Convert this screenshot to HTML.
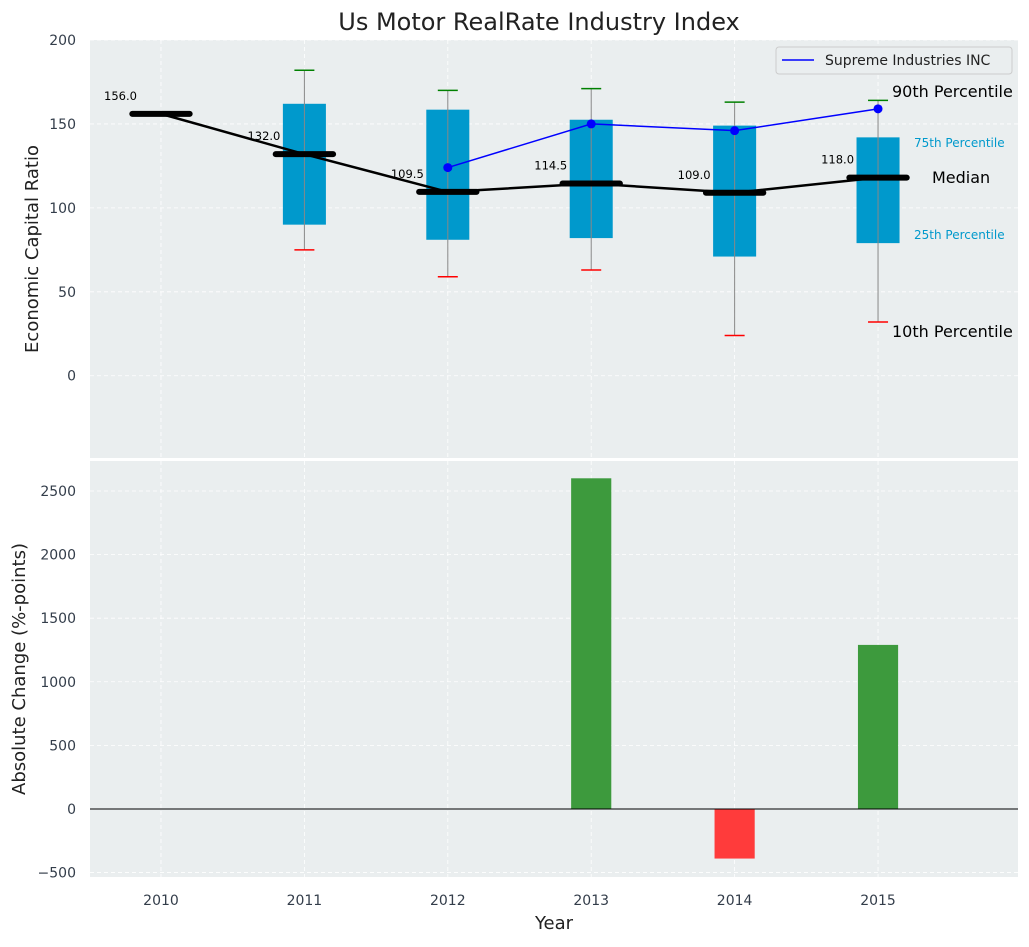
<!DOCTYPE html>
<html><head><meta charset="utf-8"><style>
body{margin:0;background:#fff;font-family:"Liberation Sans","DejaVu Sans",sans-serif}
svg text{font-family:"DejaVu Sans","Liberation Sans",sans-serif}
</style></head><body>
<svg id="c" width="1029" height="942" xmlns="http://www.w3.org/2000/svg"></svg>
<script>
const years=[2011,2012,2013,2014,2015];
const medYears=[2010,2011,2012,2013,2014,2015];
const medians=[156.0,132.0,109.5,114.5,109.0,118.0];
const q25=[90,81,82,71,79];
const q75=[162,158.5,152.5,149,142];
const p10=[75,59,63,24,32];
const p90=[182,170,171,163,164];
const compYears=[2012,2013,2014,2015];
const compVals=[124,150,146,159];
const chgYears=[2013,2014,2015];
const chgVals=[2600,-390,1290];
const topTicks=[0,50,100,150,200];
const botTicks=[-500,0,500,1000,1500,2000,2500];
const xTicks=[2010,2011,2012,2013,2014,2015];

const NS="http://www.w3.org/2000/svg",svg=document.getElementById('c');
function el(t,a,p){const e=document.createElementNS(NS,t);for(const k in a)e.setAttribute(k,a[k]);(p||svg).appendChild(e);return e;}
const L=90,R=1018;
const x=v=>L+(v-2009.505)/(2015.976-2009.505)*(R-L);
const T1=40,B1=458,yT=v=>T1+(200-v)/(200-(-49))*(B1-T1);
const T2=461,B2=877,yB=v=>T2+(2736-v)/(2736-(-535))*(B2-T2);

let e;
e=el('text',{x:539,y:30,'text-anchor':'middle','font-size':24,fill:'#222'});e.textContent='Us Motor RealRate Industry Index';

e=el('rect',{x:L,y:T1,width:R-L,height:B1-T1,fill:'#eaeeef'});

e=el('rect',{x:L,y:T2,width:R-L,height:B2-T2,fill:'#eaeeef'});

xTicks.forEach(t=>{[[T1,B1],[T2,B2]].forEach(r=>{el('line',{x1:x(t),x2:x(t),y1:r[0],y2:r[1],stroke:'#fff','stroke-dasharray':'4,3','stroke-width':0.8});});
 e=el('text',{x:x(t),y:905,'text-anchor':'middle','font-size':14,fill:'#333d4a'});e.textContent=t;
 });
topTicks.forEach(t=>{el('line',{x1:L,x2:R,y1:yT(t),y2:yT(t),stroke:'#fff','stroke-dasharray':'4,3','stroke-width':0.8});
 e=el('text',{x:76,y:yT(t)+5,'text-anchor':'end','font-size':14,fill:'#333d4a'});e.textContent=t;
 });
botTicks.forEach(t=>{el('line',{x1:L,x2:R,y1:yB(t),y2:yB(t),stroke:'#fff','stroke-dasharray':'4,3','stroke-width':0.8});
 e=el('text',{x:76,y:yB(t)+5,'text-anchor':'end','font-size':14,fill:'#333d4a'});e.textContent=(t<0?'\u2212'+(-t):t);
 });
e=el('text',{x:38,y:249,'text-anchor':'middle','font-size':18,fill:'#222',transform:'rotate(-90 38 249)'});e.textContent='Economic Capital Ratio';

e=el('text',{x:25,y:669,'text-anchor':'middle','font-size':18,fill:'#222',transform:'rotate(-90 25 669)'});e.textContent='Absolute Change (%-points)';

e=el('text',{x:554,y:929,'text-anchor':'middle','font-size':18,fill:'#222'});e.textContent='Year';

const bw=x(2011.15)-x(2011);
years.forEach((yr,i)=>{
 e=el('rect',{x:x(yr)-bw,y:yT(q75[i]),width:2*bw,height:yT(q25[i])-yT(q75[i]),fill:'#0099cc'});
 
 e=el('line',{x1:x(yr),x2:x(yr),y1:yT(p10[i]),y2:yT(p90[i]),stroke:'#888','stroke-width':1});
 
 e=el('line',{x1:x(yr)-10,x2:x(yr)+10,y1:yT(p90[i]),y2:yT(p90[i]),stroke:'green','stroke-width':1.5});
 
 e=el('line',{x1:x(yr)-10,x2:x(yr)+10,y1:yT(p10[i]),y2:yT(p10[i]),stroke:'red','stroke-width':1.5});
 
});
e=el('polyline',{points:medYears.map((y,i)=>x(y)+','+yT(medians[i])).join(' '),fill:'none',stroke:'#000','stroke-width':2.5});

const mw=x(2010.2)-x(2010);
medYears.forEach((yr,i)=>{
 e=el('line',{x1:x(yr)-mw,x2:x(yr)+mw,y1:yT(medians[i]),y2:yT(medians[i]),stroke:'#000','stroke-width':6,'stroke-linecap':'round'});
 
 e=el('text',{x:x(yr)-24,y:yT(medians[i])-14,'text-anchor':'end','font-size':11.5,fill:'#000'});e.textContent=medians[i].toFixed(1);
 
});
e=el('polyline',{points:compYears.map((y,i)=>x(y)+','+yT(compVals[i])).join(' '),fill:'none',stroke:'blue','stroke-width':1.5});

compYears.forEach((yr,i)=>{e=el('circle',{cx:x(yr),cy:yT(compVals[i]),r:4.5,fill:'blue'});
 });
const ann=[['90th Percentile',892,97,16,'#000'],['75th Percentile',914,147,12,'#0099cc'],['Median',932,183,16,'#000'],['25th Percentile',914,239,12,'#0099cc'],['10th Percentile',892,337,16,'#000']];
ann.forEach(a=>{e=el('text',{x:a[1],y:a[2],'font-size':a[3],fill:a[4]});e.textContent=a[0];
 });
const lg=el('g',{});
el('rect',{x:776,y:47,width:236,height:27,rx:3,fill:'#eaeeef',stroke:'#ccc'},lg);
el('line',{x1:782,x2:814,y1:60,y2:60,stroke:'blue','stroke-width':1.5},lg);
e=el('text',{x:825,y:65,'font-size':14,fill:'#222'},lg);e.textContent='Supreme Industries INC';
const bbw=x(2011.14)-x(2011);
chgYears.forEach((yr,i)=>{const v=chgVals[i];
 e=el('rect',{x:x(yr)-bbw,y:yB(Math.max(v,0)),width:2*bbw,height:Math.abs(yB(v)-yB(0)),fill:v>=0?'#3d9a3d':'#ff3b3b'});
 });
e=el('line',{x1:L,x2:R,y1:yB(0),y2:yB(0),stroke:'#000','stroke-width':1});

</script>
</body></html>
